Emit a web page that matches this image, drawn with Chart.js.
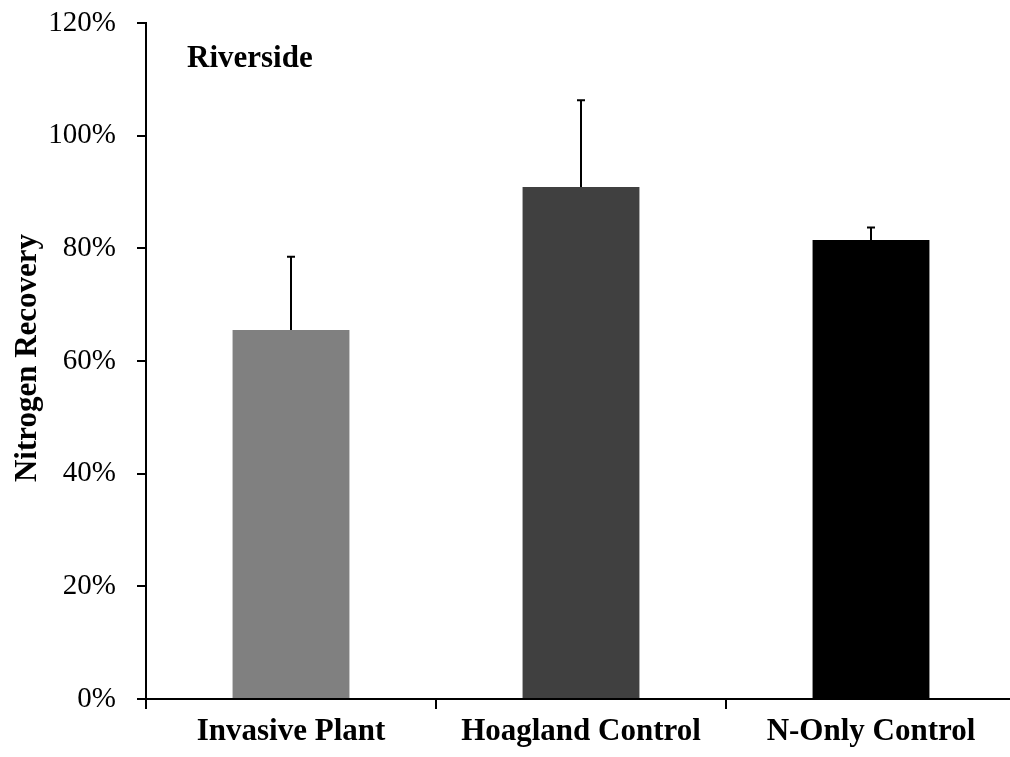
<!DOCTYPE html>
<html>
<head>
<meta charset="utf-8">
<script src="https://cdn.jsdelivr.net/npm/chart.js@4.4.1/dist/chart.umd.min.js"></script>
<style>
  html, body { margin: 0; padding: 0; background: #fff; overflow: hidden; }
  #wrap { position: relative; width: 1016px; height: 757px; }
</style>
</head>
<body>
<div id="wrap"><canvas id="chart" width="1016" height="757"></canvas></div>
<script>
// Nitrogen recovery by treatment, Riverside site (mean with +1 SE)
const categories = ['Invasive Plant', 'Hoagland Control', 'N-Only Control'];
const recovery = [65.5, 90.9, 81.5];
const recoveryErr = [13.0, 15.4, 2.2];
const barColors = ['#808080', '#404040', '#000000'];
const yTicks = [0, 20, 40, 60, 80, 100, 120];
const siteLabel = 'Riverside';
const yTitle = 'Nitrogen Recovery';

const SERIF = '"Liberation Serif", "Times New Roman", serif';

// Upper error bars with small caps, drawn through the chart's own scales
const errorBars = {
  id: 'errorBars',
  afterDatasetsDraw(chart) {
    const ctx = chart.ctx;
    const meta = chart.getDatasetMeta(0);
    const y = chart.scales.y;
    ctx.save();
    ctx.strokeStyle = '#000';
    ctx.lineWidth = 2;
    meta.data.forEach((bar, i) => {
      const x = Math.round(bar.x);
      const top = y.getPixelForValue(recovery[i] + recoveryErr[i]);
      const base = y.getPixelForValue(recovery[i]);
      ctx.beginPath();
      ctx.moveTo(x, base);
      ctx.lineTo(x, top);
      ctx.moveTo(x - 4, top);
      ctx.lineTo(x + 4, top);
      ctx.stroke();
    });
    ctx.restore();
  }
};

// Site label and rotated axis title
const annotations = {
  id: 'annotations',
  afterDraw(chart) {
    const ctx = chart.ctx;
    ctx.save();
    ctx.fillStyle = '#000';
    ctx.font = 'bold 31px ' + SERIF;
    ctx.textAlign = 'left';
    ctx.textBaseline = 'alphabetic';
    ctx.fillText(siteLabel, 187, 67);
    ctx.translate(28, 358);
    ctx.rotate(-Math.PI / 2);
    ctx.textAlign = 'center';
    ctx.textBaseline = 'middle';
    ctx.fillText(yTitle, 0, 0);
    ctx.restore();
  }
};

new Chart(document.getElementById('chart'), {
  type: 'bar',
  data: {
    labels: categories,
    datasets: [{
      data: recovery,
      backgroundColor: barColors,
      borderWidth: 0,
      categoryPercentage: 1,
      barPercentage: 0.403
    }]
  },
  options: {
    responsive: false,
    animation: false,
    devicePixelRatio: 1,
    layout: { padding: { left: 0, right: 0, top: 23, bottom: 0 } },
    plugins: { legend: { display: false }, tooltip: { enabled: false } },
    scales: {
      x: {
        offset: true,
        grid: {
          offset: true,
          drawOnChartArea: false,
          drawTicks: true,
          tickLength: 10,
          color: '#000',
          lineWidth: 2
        },
        border: { display: true, color: '#000', width: 2 },
        ticks: {
          color: '#000',
          font: { family: SERIF, size: 31, weight: 'bold' },
          padding: 4,
          maxRotation: 0,
          autoSkip: false
        },
        afterFit(scale) { scale.height = 58; }
      },
      y: {
        min: 0,
        max: 120,
        afterBuildTicks(scale) { scale.ticks = yTicks.map(v => ({ value: v })); },
        grid: {
          drawOnChartArea: false,
          drawTicks: true,
          tickLength: 9,
          color: '#000',
          lineWidth: 2
        },
        border: { display: true, color: '#000', width: 2 },
        ticks: {
          color: '#000',
          font: { family: SERIF, size: 29 },
          padding: 21,
          callback: v => v + '%'
        },
        afterFit(scale) {
          scale.width = 146;
          scale.paddingTop = 0;
          scale.paddingBottom = 0;
        }
      }
    }
  },
  plugins: [errorBars, annotations]
});
</script>
</body>
</html>
